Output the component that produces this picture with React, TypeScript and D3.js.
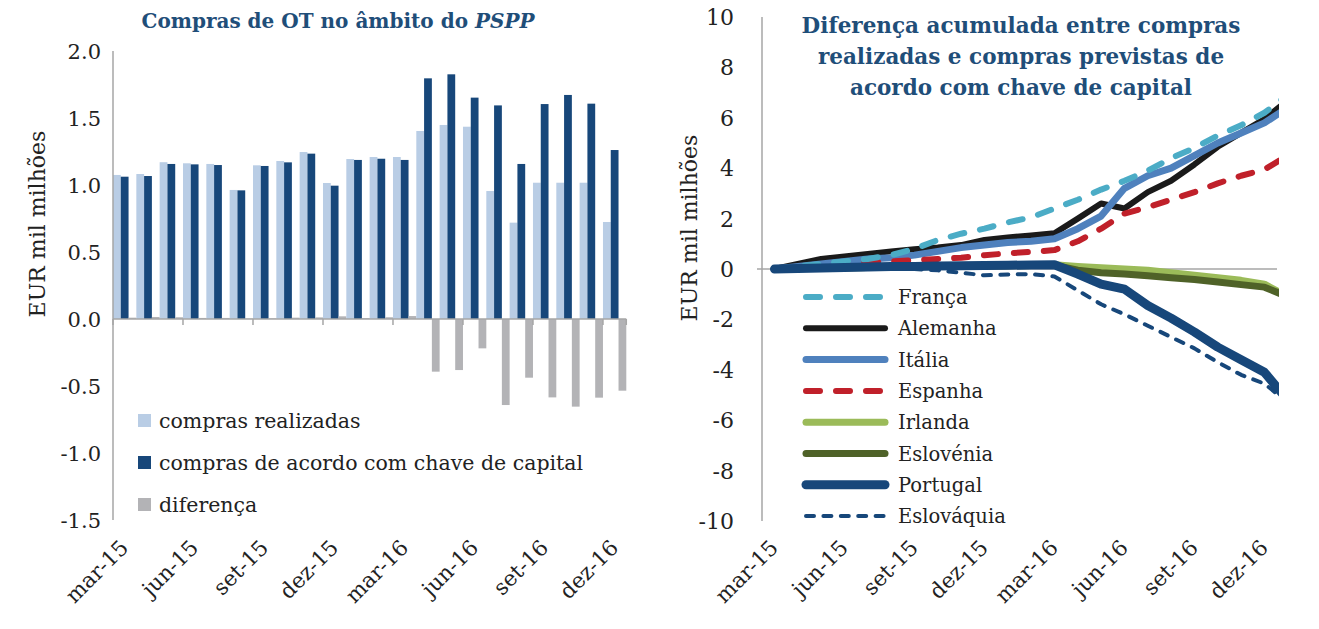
import React from "react";
import * as d3 from "d3";

const months = ["mar-15","abr-15","mai-15","jun-15","jul-15","ago-15","set-15","out-15","nov-15","dez-15","jan-16","fev-16","mar-16","abr-16","mai-16","jun-16","jul-16","ago-16","set-16","out-16","nov-16","dez-16"];
const tickLabels = ["mar-15","jun-15","set-15","dez-15","mar-16","jun-16","set-16","dez-16"];

const comprasRealizadas = [1.075,1.082,1.17,1.162,1.157,0.963,1.147,1.179,1.246,1.015,1.194,1.209,1.209,1.403,1.448,1.435,0.955,0.719,1.017,1.017,1.017,0.724];
const comprasChave = [1.062,1.067,1.157,1.154,1.149,0.96,1.142,1.169,1.234,0.995,1.187,1.196,1.187,1.796,1.826,1.652,1.594,1.157,1.604,1.672,1.607,1.261];
const diferenca = [0.01,0.015,0.013,0.008,0.008,0.003,0.005,0.01,0.012,0.02,0.007,0.013,0.022,-0.393,-0.381,-0.219,-0.642,-0.438,-0.585,-0.654,-0.587,-0.535];

const leftTicks = [2.0,1.5,1.0,0.5,0.0,-0.5,-1.0,-1.5];
const rightTicks = [10,8,6,4,2,0,-2,-4,-6,-8,-10];

// cumulative differences (last value = following month, clipped at plot edge)
const franca = [0,0.1,0.2,0.3,0.4,0.55,0.8,1.15,1.4,1.6,1.85,2.05,2.4,2.75,3.15,3.5,3.9,4.4,4.8,5.3,5.7,6.2,6.9];
const alemanha = [0,0.2,0.4,0.5,0.6,0.7,0.78,0.85,0.95,1.15,1.25,1.33,1.42,2.0,2.6,2.4,3.05,3.5,4.15,4.85,5.4,5.95,6.7];
const italia = [0,0.1,0.2,0.3,0.4,0.45,0.55,0.7,0.85,0.95,1.05,1.1,1.2,1.6,2.1,3.2,3.7,4.0,4.5,5.0,5.4,5.8,6.4];
const espanha = [0,0.05,0.1,0.15,0.25,0.3,0.35,0.4,0.45,0.55,0.62,0.68,0.75,1.1,1.6,2.2,2.45,2.75,3.05,3.4,3.7,3.95,4.5];
const irlanda = [0,0.02,0.04,0.05,0.06,0.08,0.1,0.1,0.12,0.13,0.15,0.16,0.17,0.1,0.05,0.0,-0.05,-0.15,-0.25,-0.35,-0.45,-0.6,-1.1];
const eslovenia = [0,0.02,0.04,0.05,0.06,0.07,0.09,0.1,0.11,0.12,0.13,0.14,0.15,-0.05,-0.15,-0.2,-0.27,-0.35,-0.42,-0.52,-0.62,-0.72,-1.1];
const portugal = [0,0.02,0.04,0.06,0.08,0.1,0.1,0.12,0.13,0.14,0.15,0.16,0.17,-0.2,-0.6,-0.8,-1.45,-1.95,-2.5,-3.1,-3.6,-4.1,-5.2];
const eslovaquia = [0,0.02,0.04,0.05,0.05,0.02,0.0,-0.05,-0.15,-0.25,-0.22,-0.2,-0.3,-0.85,-1.4,-1.8,-2.25,-2.7,-3.15,-3.7,-4.2,-4.55,-5.3];

const FONT = "'DejaVu Serif', serif";
const TITLE = "#1f4e79";
const AXIS = "#a6a6a6";
const LIGHT = "#b9cde5";
const DARK = "#17477a";
const GRAY = "#b3b3b6";
const TXT = "#222";

type S = { name: string; values: number[]; color: string; width: number; dash?: string };
const series: S[] = [
  { name: "França", values: franca, color: "#4bacc6", width: 6, dash: "14 16" },
  { name: "Alemanha", values: alemanha, color: "#1a1a1a", width: 6 },
  { name: "Itália", values: italia, color: "#4f81bd", width: 7 },
  { name: "Espanha", values: espanha, color: "#c0202a", width: 6, dash: "14 16" },
  { name: "Irlanda", values: irlanda, color: "#9bbb59", width: 7 },
  { name: "Eslovénia", values: eslovenia, color: "#4f6228", width: 7 },
  { name: "Portugal", values: portugal, color: "#17477a", width: 9 },
  { name: "Eslováquia", values: eslovaquia, color: "#17477a", width: 4, dash: "8 9.4" },
];
const drawOrder = ["Irlanda","Eslovénia","Alemanha","Itália","Espanha","França","Eslováquia","Portugal"];

export default function App() {
  // left chart
  const xL = d3.scaleBand<string>().domain(months).range([113, 626.3]).padding(0);
  const yL = d3.scaleLinear().domain([-1.5, 2]).range([520, 51]);
  const sub = d3.scaleBand<string>().domain(["r","c","d"]).range([0, xL.bandwidth()]).padding(0);
  const bw = sub.bandwidth();

  // right chart
  const xR = d3.scaleBand<string>().domain(months).range([762.8, 1276.1]).padding(0);
  const c0 = (xR(months[0]) as number) + xR.bandwidth() / 2;
  const xIdx = d3.scaleLinear().domain([0, 1]).range([c0, c0 + xR.bandwidth()]);
  const yR = d3.scaleLinear().domain([-10, 10]).range([521, 17]);
  const line = d3.line<number>().x((_, i) => xIdx(i)).y((v) => yR(v)).curve(d3.curveLinear);

  const tickIdx = months.map((m, i) => i).filter((i) => i % 3 === 0);

  return (
    <div style={{ position: "absolute", left: 0, top: 0 }}>
      <svg width={1319} height={629} style={{ display: "block", fontFamily: FONT }}>
        <rect width={1319} height={629} fill="#fff" />
        {/* ---------- LEFT CHART ---------- */}
        <text x={338} y={28} textAnchor="middle" fontSize={20} fontWeight="bold" fill={TITLE}>
          Compras de OT no âmbito do <tspan fontStyle="italic">PSPP</tspan>
        </text>
        <text transform="translate(45,224) rotate(-90)" textAnchor="middle" fontSize={22} fill={TXT}>EUR mil milhões</text>
        {leftTicks.map((t) => (
          <text key={t} x={101} y={yL(t) + 8} textAnchor="end" fontSize={21} fill={TXT}>{t.toFixed(1)}</text>
        ))}
        {months.map((m, i) => (
          <g key={m}>
            <rect x={(xL(m) as number) + (sub("r") as number)} y={yL(comprasRealizadas[i])} width={bw} height={yL(0) - yL(comprasRealizadas[i])} fill={LIGHT} />
            <rect x={(xL(m) as number) + (sub("c") as number)} y={yL(comprasChave[i])} width={bw} height={yL(0) - yL(comprasChave[i])} fill={DARK} />
            <rect x={(xL(m) as number) + (sub("d") as number)} y={Math.min(yL(0), yL(diferenca[i]))} width={bw} height={Math.abs(yL(0) - yL(diferenca[i]))} fill={GRAY} />
          </g>
        ))}
        <line x1={113} x2={113} y1={51} y2={520} stroke={AXIS} strokeWidth={1.5} />
        <line x1={113} x2={626.3} y1={yL(0)} y2={yL(0)} stroke={AXIS} strokeWidth={1.5} />
        {[...tickIdx, 22].map((i) => {
          const x = 113 + i * xL.bandwidth();
          return <line key={i} x1={x} x2={x} y1={yL(0)} y2={yL(0) + 6} stroke={AXIS} strokeWidth={1.5} />;
        })}
        {tickLabels.map((lab, k) => {
          const cx = (xL(months[k * 3]) as number) + xL.bandwidth() / 2;
          return (
            <text key={lab} transform={`translate(${cx + 5},${549}) rotate(-45)`} textAnchor="end" fontSize={21.5} fill={TXT}>{lab}</text>
          );
        })}
        {[
          { label: "compras realizadas", color: LIGHT, y: 421 },
          { label: "compras de acordo com chave de capital", color: DARK, y: 463 },
          { label: "diferença", color: GRAY, y: 505 },
        ].map((l) => (
          <g key={l.label}>
            <rect x={138} y={l.y - 7} width={13} height={13} fill={l.color} />
            <text x={159} y={l.y + 7} fontSize={20.5} fill={TXT}>{l.label}</text>
          </g>
        ))}

        {/* ---------- RIGHT CHART ---------- */}
        <text textAnchor="middle" fontSize={21.5} fontWeight="bold" fill={TITLE}>
          <tspan x={1021} y={33}>Diferença acumulada entre compras</tspan>
          <tspan x={1021} y={64}>realizadas e compras previstas de</tspan>
          <tspan x={1021} y={95}>acordo com chave de capital</tspan>
        </text>
        <text transform="translate(697,228) rotate(-90)" textAnchor="middle" fontSize={22} fill={TXT}>EUR mil milhões</text>
        {rightTicks.map((t) => (
          <text key={t} x={734} y={yR(t) + 8} textAnchor="end" fontSize={22} fill={TXT}>{t}</text>
        ))}
        <line x1={762} x2={762} y1={17} y2={521} stroke={AXIS} strokeWidth={1.5} />
        <line x1={757} x2={1277} y1={yR(0)} y2={yR(0)} stroke={AXIS} strokeWidth={1.5} />
        {tickLabels.map((lab, k) => {
          const cx = (xR(months[k * 3]) as number) + xR.bandwidth() / 2;
          return (
            <text key={lab} transform={`translate(${cx + 5},${549}) rotate(-45)`} textAnchor="end" fontSize={21.5} fill={TXT}>{lab}</text>
          );
        })}
        <defs>
          <clipPath id="plotR">
            <rect x={762} y={0} width={1279 - 762} height={629} />
          </clipPath>
        </defs>
        <g clipPath="url(#plotR)">
          {drawOrder.map((n) => {
            const s = series.find((q) => q.name === n) as S;
            return (
              <path key={n} d={line(s.values) as string} fill="none" stroke={s.color} strokeWidth={s.width}
                strokeDasharray={s.dash} strokeLinecap="round" strokeLinejoin="round" />
            );
          })}
        </g>
        {series.map((s, i) => {
          const y = 297 + i * 31.3;
          return (
            <g key={s.name}>
              <line x1={806} x2={885} y1={y} y2={y} stroke={s.color} strokeWidth={s.width} strokeDasharray={s.dash} strokeLinecap="round" />
              <text x={898} y={y + 7} fontSize={19.5} fill={TXT}>{s.name}</text>
            </g>
          );
        })}
      </svg>
    </div>
  );
}
